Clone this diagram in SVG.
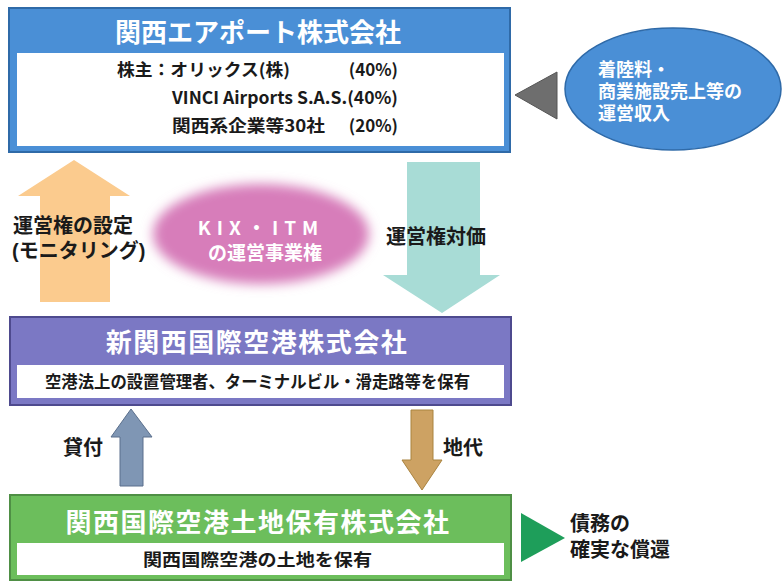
<svg xmlns="http://www.w3.org/2000/svg" width="783" height="581" viewBox="0 0 783 581">
<defs>
<style>
text{font-family:"Noto Sans CJK JP","Noto Sans",sans-serif;}
.ttl{font-size:26px;font-weight:bold;fill:#ffffff;text-anchor:middle;}
.blk{font-size:20px;font-weight:bold;fill:#1a1a1a;}
.sm{font-size:17px;font-weight:bold;fill:#1a1a1a;}
.wh{fill:#ffffff;stroke:none;}
.rev{font-size:18px;font-weight:bold;fill:#ffffff;}
.ml{font-family:"Liberation Sans","Noto Sans CJK JP",sans-serif;}
</style>
<filter id="blur" x="-20%" y="-30%" width="140%" height="160%"><feGaussianBlur stdDeviation="6"/></filter>
</defs>
<rect width="783" height="581" fill="#ffffff"/>

<g id="kansai-airports">
<rect x="9" y="8" width="501" height="144" fill="#4A8FD6" stroke="#2F6AA8" stroke-width="2"/>
<rect x="17" y="53" width="487" height="93" class="wh"/>
<text class="ttl" x="258" y="42">関西エアポート株式会社</text>
<text class="sm" x="117" y="76" textLength="173" lengthAdjust="spacingAndGlyphs">株主：オリックス(株)</text>
<text class="sm" x="398" y="76" text-anchor="end">(40%)</text>
<text class="sm" x="172" y="104" textLength="226" lengthAdjust="spacingAndGlyphs">VINCI Airports S.A.S.(40%)</text>
<text class="sm" x="172" y="132" textLength="153" lengthAdjust="spacingAndGlyphs">関西系企業等30社</text>
<text class="sm" x="398" y="132" text-anchor="end">(20%)</text>
</g>

<g id="revenue">
<ellipse cx="673" cy="89" rx="108" ry="61" fill="#4A8FD6" stroke="#2F6AA8" stroke-width="1.5"/>
<text class="rev ml"><tspan x="598" y="76">着陸料・</tspan><tspan x="598" y="98">商業施設売上等の</tspan><tspan x="598" y="120">運営収入</tspan></text>
</g>

<g id="concession">
<ellipse cx="261" cy="234" rx="108" ry="50" fill="#D77DBA" filter="url(#blur)"/>
<text font-size="19" font-weight="bold" fill="#ffffff" text-anchor="middle"><tspan x="261" y="235" letter-spacing="6">KIX・ITM</tspan><tspan x="265" y="260">の運営事業権</tspan></text>
</g>

<g id="nkiac">
<rect x="10" y="317" width="501" height="88" fill="#7B78C4" stroke="#4E4A8E" stroke-width="2"/>
<rect x="17" y="365" width="487" height="33" class="wh"/>
<text class="ttl" x="257" y="352" letter-spacing="1.5">新関西国際空港株式会社</text>
<text class="sm" x="45" y="388" font-size="16" textLength="425" lengthAdjust="spacingAndGlyphs">空港法上の設置管理者、ターミナルビル・滑走路等を保有</text>
</g>

<g id="land">
<rect x="10" y="495" width="501" height="85" fill="#6CBE5C" stroke="#4F8F45" stroke-width="2"/>
<rect x="17" y="543" width="487" height="32" class="wh"/>
<text class="ttl" x="258" y="532" fill="#f4fff0" letter-spacing="1.5">関西国際空港土地保有株式会社</text>
<text class="sm" x="143" y="566" textLength="229" lengthAdjust="spacingAndGlyphs">関西国際空港の土地を保有</text>
</g>

<g id="repayment">
<text class="blk ml" font-size="19"><tspan x="570" y="531">債務の</tspan><tspan x="570" y="557">確実な償還</tspan></text>
</g>

<g id="connectors">
<polygon points="515,95 557,72 557,119" fill="#6E6E6E" stroke="#555" stroke-width="1"/>
<polygon points="40,302 40,196 18,196 74,160 130,196 110,196 110,302" fill="#FBCB8E"/>
<polygon points="407,162 480,162 480,275 500,275 442,313 383,275 407,275" fill="#A8DCD6"/>
<polygon points="120,486 120,437 111,437 131,409 152,437 143,437 143,486" fill="#7F96B4" stroke="#5A6F8C" stroke-width="1"/>
<polygon points="411,410 433,410 433,460 442,460 422,490 402,460 411,460" fill="#CDA263" stroke="#A9833F" stroke-width="1"/>
<polygon points="521,513 565,538 521,562" fill="#1E9E5A"/>
<text class="blk ml"><tspan x="13" y="233">運営権の設定</tspan><tspan x="12" y="258">(モニタリング)</tspan></text>
<text class="blk" x="386" y="244">運営権対価</text>
<text class="blk" x="63" y="455">貸付</text>
<text class="blk" x="443" y="455">地代</text>
</g>
</svg>
